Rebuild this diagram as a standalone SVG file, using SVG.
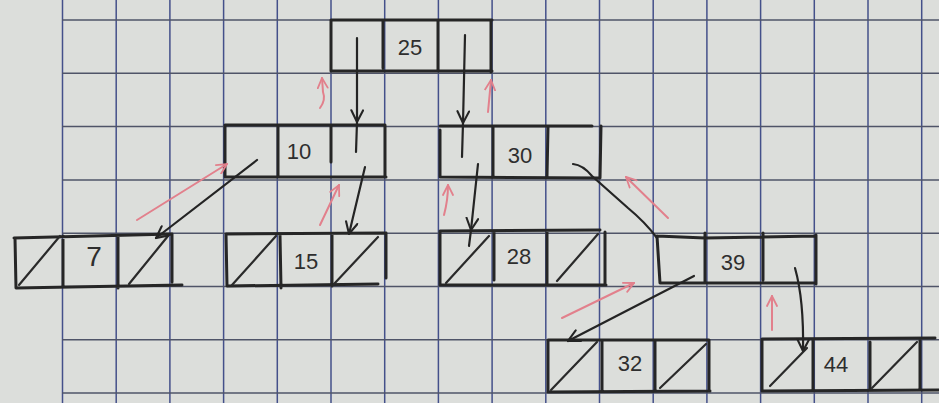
<svg xmlns="http://www.w3.org/2000/svg" width="939" height="403" viewBox="0 0 939 403">
<defs>
<style>
.grid line{stroke-width:1.5}
.gv line{stroke:#44508a}
.gh line{stroke:#4f5468}
.box{fill:none;stroke:#262626;stroke-width:3;stroke-linecap:round;stroke-linejoin:round}
.slash{fill:none;stroke:#2a2a2a;stroke-width:2.2;stroke-linecap:round}
.lbl{font-family:"Liberation Sans",Arial,sans-serif;font-size:22px;fill:#2e2e2e;text-anchor:middle;dominant-baseline:central}
.blk{fill:none;stroke:#242424;stroke-width:2.2;stroke-linecap:round}
.red{fill:none;stroke:#e2808c;stroke-width:2;stroke-linecap:round}
</style>
<marker id="ab" viewBox="0 0 12 12" refX="11" refY="6" markerWidth="14" markerHeight="14" markerUnits="userSpaceOnUse" orient="auto">
<path d="M1,1 L11,6 L1,11" fill="none" stroke="#242424" stroke-width="1.8" stroke-linecap="round"/>
</marker>
<marker id="ar" viewBox="0 0 12 12" refX="11" refY="6" markerWidth="12" markerHeight="12" markerUnits="userSpaceOnUse" orient="auto">
<path d="M1,1 L11,6 L1,11" fill="none" stroke="#e2808c" stroke-width="1.8" stroke-linecap="round"/>
</marker>
</defs>
<rect x="0" y="0" width="939" height="403" fill="#dcdedb"/>
<g class="grid gv">
<line x1="62.5" y1="0" x2="62.5" y2="403"/>
<line x1="116.2" y1="0" x2="116.2" y2="403"/>
<line x1="169.9" y1="0" x2="169.9" y2="403"/>
<line x1="223.6" y1="0" x2="223.6" y2="403"/>
<line x1="277.3" y1="0" x2="277.3" y2="403"/>
<line x1="331" y1="0" x2="331" y2="403"/>
<line x1="384.7" y1="0" x2="384.7" y2="403"/>
<line x1="438.4" y1="0" x2="438.4" y2="403"/>
<line x1="492.1" y1="0" x2="492.1" y2="403"/>
<line x1="545.8" y1="0" x2="545.8" y2="403"/>
<line x1="599.5" y1="0" x2="599.5" y2="403"/>
<line x1="653.2" y1="0" x2="653.2" y2="403"/>
<line x1="706.9" y1="0" x2="706.9" y2="403"/>
<line x1="760.6" y1="0" x2="760.6" y2="403"/>
<line x1="814.3" y1="0" x2="814.3" y2="403"/>
<line x1="868" y1="0" x2="868" y2="403"/>
<line x1="921.7" y1="0" x2="921.7" y2="403"/>
</g>
<g class="grid gh">
<line x1="62" y1="20" x2="939" y2="20"/>
<line x1="62" y1="73.3" x2="939" y2="73.3"/>
<line x1="62" y1="126.6" x2="939" y2="126.6"/>
<line x1="62" y1="179.9" x2="939" y2="179.9"/>
<line x1="62" y1="233.2" x2="939" y2="233.2"/>
<line x1="62" y1="286.5" x2="939" y2="286.5"/>
<line x1="62" y1="339.8" x2="939" y2="339.8"/>
<line x1="62" y1="393.1" x2="939" y2="393.1"/>
</g>

<g id="node-25">
<path class="box" d="M331,20 L492,20 M331,20 L331,71 L492,71 M383,20 L383,68 M438,20 L438,71 M491,20 L491,72"/>
<text class="lbl" x="410" y="47">25</text>
</g>
<g id="node-10">
<path class="box" d="M225,125 L385,125 M225,125 L225,177 L386,177 M278,125 L278,177 M331,125 L331,162 M385,125 L385,177"/>
<text class="lbl" x="299" y="151">10</text>
</g>
<g id="node-30">
<path class="box" d="M440,126 L592,126 M440,130 L440,177 L600,178 M493,126 L493,177 M548,127 L547,176 M601,126 L600,178"/>
<text class="lbl" x="520" y="155">30</text>
</g>
<g id="node-7">
<path class="box" d="M14,238 L172,234 M15,238 L16,288 L182,285 M63,236 L63,286 M118,236 L118,288 M172,234 L172,282"/>
<path class="slash" d="M19,285 L60,236 M129,284 L168,236"/>
<text class="lbl" x="94" y="256" style="font-size:28px">7</text>
</g>
<g id="node-15">
<path class="box" d="M226,234 L386,233 M226,234 L227,286 L378,284 M280,235 L281,288 M332,234 L332,286 M386,233 L386,278"/>
<path class="slash" d="M232,285 L276,236 M334,284 L378,237"/>
<text class="lbl" x="306" y="261">15</text>
</g>
<g id="node-28">
<path class="box" d="M440,231 L600,230 M440,231 L440,285 L606,285 M494,232 L494,280 M547,232 L547,285 M605,232 L605,284"/>
<path class="slash" d="M446,283 L489,236 M557,281 L598,234"/>
<text class="lbl" x="519" y="256">28</text>
</g>
<g id="node-39">
<path class="box" d="M657,236 L705,238 L816,236 M657,236 L660,283 L816,283 M705,233 L705,282 M763,233 L763,280 M816,235 L816,284"/>
<text class="lbl" x="733" y="262">39</text>
</g>
<g id="node-32">
<path class="box" d="M548,340 L709,340 M548,340 L548,392 L710,391 M602,340 L602,391 M655,340 L655,391 M709,340 L709,390"/>
<path class="slash" d="M551,390 L597,342 M660,388 L706,344"/>
<text class="lbl" x="630" y="363">32</text>
</g>
<g id="node-44">
<path class="box" d="M762,339 L935,338 M762,339 L762,391 L939,390 M813,340 L813,390 M870,342 L870,390 M920,340 L920,390"/>
<path class="slash" d="M770,386 L807,348 M872,388 L917,342"/>
<text class="lbl" x="836" y="364">44</text>
</g>

<g id="connectors">
<path class="blk" marker-mid="url(#ab)" d="M357,38 L357,122 L356,152"/>
<path class="blk" marker-mid="url(#ab)" d="M465,35 L463,123 L462,157"/>
<path class="blk" marker-end="url(#ab)" d="M365,167 L349,234"/>
<path class="blk" marker-end="url(#ab)" d="M257,160 L156,238"/>
<path class="blk" marker-mid="url(#ab)" d="M478,164 L471,230 L469,246"/>
<path class="blk" d="M573,164 Q583,165 592,176 L628,208 Q645,222 657,238"/>
<path class="blk" marker-end="url(#ab)" d="M694,276 L568,341"/>
<path class="blk" marker-end="url(#ab)" d="M795,268 Q804,300 803,351"/>
<path class="red" marker-end="url(#ar)" d="M320,108 Q326,100 323,92 L322,78"/>
<path class="red" marker-end="url(#ar)" d="M488,112 L491,80"/>
<path class="red" marker-end="url(#ar)" d="M137,220 L227,164"/>
<path class="red" marker-end="url(#ar)" d="M320,225 L339,185"/>
<path class="red" marker-end="url(#ar)" d="M444,215 Q448,200 448,185"/>
<path class="red" marker-end="url(#ar)" d="M668,218 L626,177"/>
<path class="red" marker-end="url(#ar)" d="M562,318 L634,283"/>
<path class="red" marker-end="url(#ar)" d="M772,330 L772,296"/>
</g>
</svg>
